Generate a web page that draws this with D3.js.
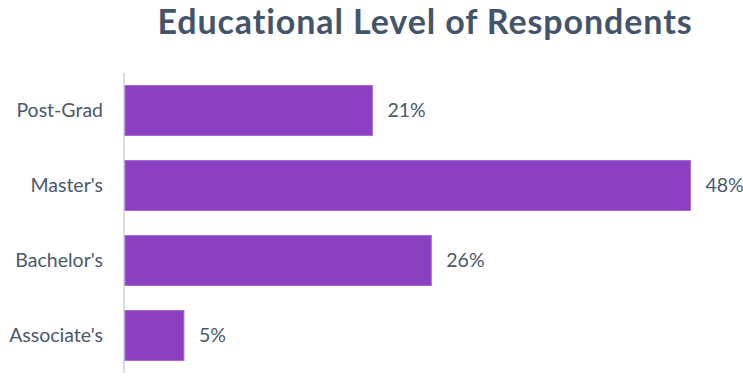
<!DOCTYPE html>
<html>
<head>
<meta charset="utf-8">
<script src="https://cdn.jsdelivr.net/npm/d3@7"></script>
<style>
  html, body { margin: 0; padding: 0; background: #ffffff; }
  svg { display: block; }
  text { font-variant-ligatures: none; }
</style>
</head>
<body>
<div id="chart"></div>
<script>
const categories = ["Post-Grad", "Master's", "Bachelor's", "Associate's"];
const values = [21, 48, 26, 5];
const valueLabels = ["21%", "48%", "26%", "5%"];
const titleText = "Educational Level of Respondents";

const W = 743, H = 379;
const svg = d3.select("#chart").append("svg").attr("width", W).attr("height", H);

const x = d3.scaleLinear().domain([0, 50]).range([125, 125 + 589]);
const y = d3.scaleBand().domain(categories).range([73, 373]).paddingInner(0.333).paddingOuter(0.1665);

// title
svg.append("text")
  .attr("x", 425).attr("y", 33.5)
  .attr("text-anchor", "middle")
  .attr("font-family", "Lato, 'Open Sans', sans-serif")
  .attr("font-weight", "bold")
  .attr("font-size", 34)
  .attr("letter-spacing", 0.9)
  .attr("fill", "#44546A")
  .text(titleText);

// axis line
const yAxis = d3.axisLeft(y).tickSize(0).tickPadding(21);
const gA = svg.append("g").attr("transform", "translate(124,0)").call(yAxis);
gA.select(".domain").attr("stroke", "#D9DEE5").attr("stroke-width", 2).attr("d", "M0,73V373");
gA.selectAll("text")
  .attr("font-family", "Lato, 'Open Sans', sans-serif")
  .attr("font-size", 19.5)
  .attr("fill", "#4A586C");

// bars
svg.selectAll("rect.bar").data(values).join("rect")
  .attr("class", "bar")
  .attr("x", x(0))
  .attr("y", (d, i) => y(categories[i]))
  .attr("width", d => x(d) - x(0))
  .attr("height", y.bandwidth())
  .attr("fill", "#8A40C1")
  .attr("stroke", "#A46BD6")
  .attr("stroke-width", 1);

// value labels
svg.selectAll("text.val").data(values).join("text")
  .attr("class", "val")
  .attr("x", d => x(d) + 15)
  .attr("y", (d, i) => y(categories[i]) + y.bandwidth() / 2)
  .attr("dy", "0.35em")
  .attr("font-family", "Lato, 'Open Sans', sans-serif")
  .attr("font-size", 19.5)
  .attr("fill", "#4A586C")
  .text((d, i) => valueLabels[i]);
</script>
</body>
</html>
